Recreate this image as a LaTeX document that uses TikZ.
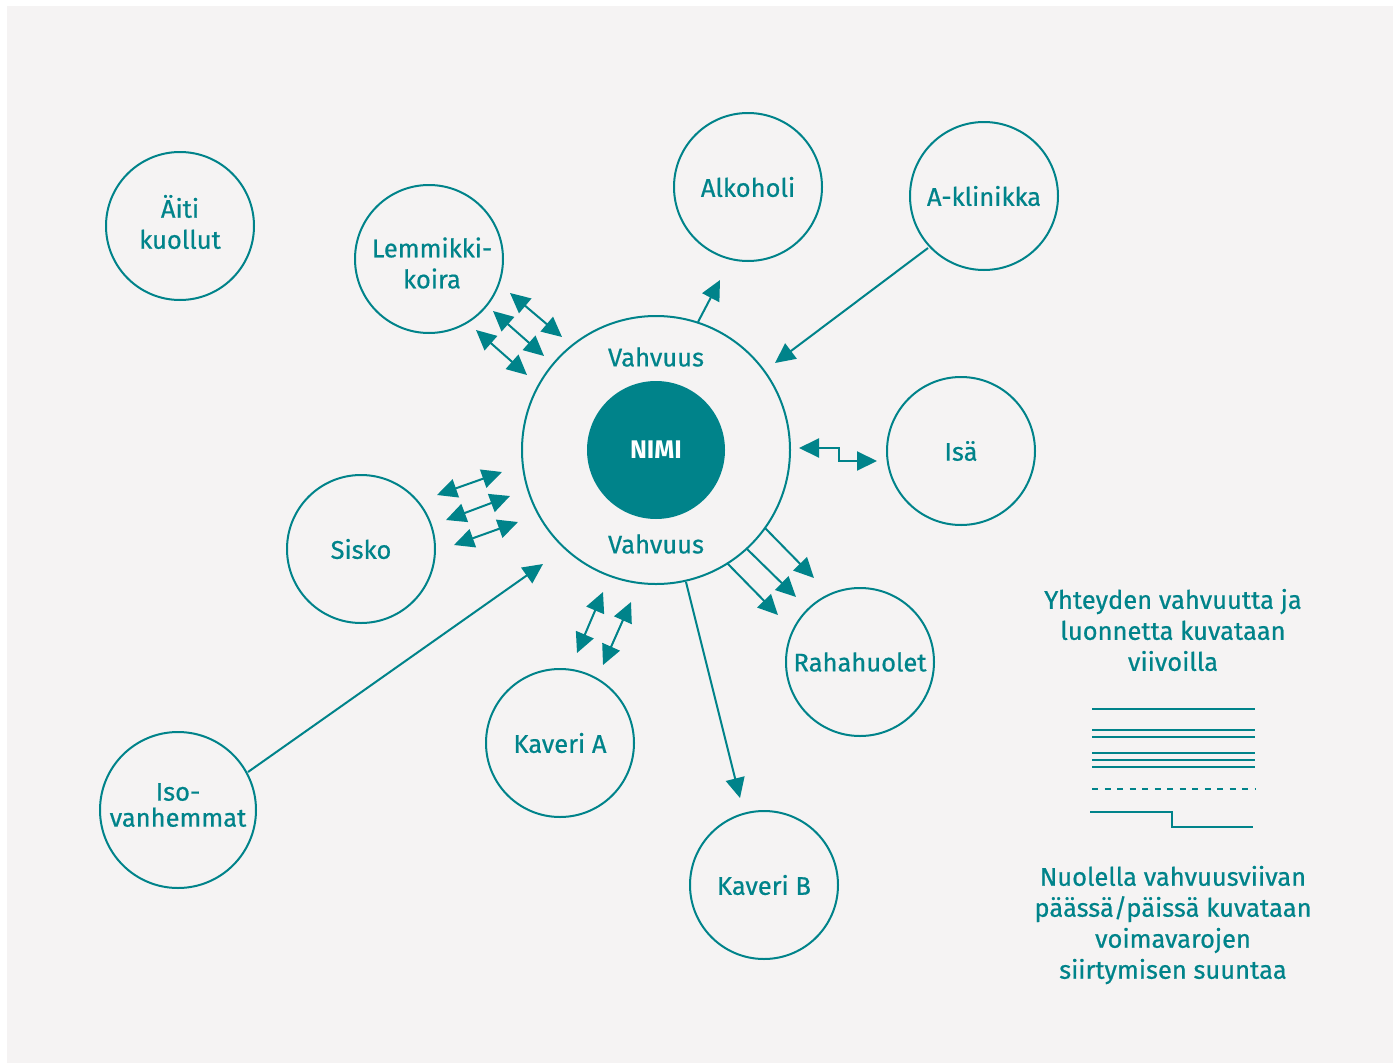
\documentclass[tikz,border=0pt]{standalone}
\usepackage{fontspec}
\setmainfont{Fira Sans}[FakeBold=0.6]
\newfontfamily\boldf{Fira Sans}
\usetikzlibrary{arrows.meta}
\definecolor{teal}{RGB}{0,131,138}
\definecolor{bg}{RGB}{245,243,243}
\tikzset{
  person/.style={circle, draw=teal, line width=2pt, minimum size=148pt, inner sep=0pt, align=center, text=teal, font=\fontsize{25.5}{31}\selectfont},
  lbl/.style={text=teal, font=\fontsize{25.5}{31}\selectfont, align=center, inner sep=0pt},
  conn/.style={draw=teal, line width=2pt, -{Triangle[length=20pt,width=19pt]}},
  dconn/.style={draw=teal, line width=2pt, {Triangle[length=20pt,width=19pt]}-{Triangle[length=20pt,width=19pt]}},
  legline/.style={draw=teal, line width=2pt}
}
\begin{document}
\begin{tikzpicture}[x=1pt,y=-1pt]
\useasboundingbox (0,0) rectangle (1393,1063);
\fill[white] (0,0) rectangle (1393,1063);
\fill[bg] (7,6) rectangle (1393,1063);

% central
\node[circle, draw=teal, line width=2pt, minimum size=268pt, inner sep=0pt] (center) at (656,450) {};
\node[circle, fill=teal, minimum size=138pt, inner sep=0pt, text=white, font=\boldf\fontsize{25.5}{31}\selectfont\bfseries] (nimi) at (656,450) {NIMI};
\node[lbl] (vtop) at (656,357) {Vahvuus};
\node[lbl] (vbot) at (656,544) {Vahvuus};

% persons
\node[person] (aiti) at (180,226) {};
\node[lbl] (aititxt) at (180,222) {Äiti\\kuollut};
\node[person] (lemmikki) at (429,259) {};
\node[lbl] (lemtxt) at (432,263) {Lemmikki-\\koira};
\node[person] (alkoholi) at (748,187) {Alkoholi};
\node[person] (aklinikka) at (984,196) {A-klinikka};
\node[person] (isa) at (961,451) {Isä};
\node[person] (sisko) at (361,549) {Sisko};
\node[person] (raha) at (860,662) {Rahahuolet};
\node[person] (kaveria) at (560,743) {Kaveri A};
\node[person, minimum size=156pt] (iso) at (178,810) {};
\node[lbl] (isotxt) at (178,805) {Iso-\\[-5pt]vanhemmat};
\node[person] (kaverib) at (764,885) {Kaveri B};

% single arrows
\coordinate (alkS) at (698,322);
\coordinate (alkE) at (720,280);
\draw[conn] (alkS) -- (alkE);
\coordinate (akS) at (928,248);
\coordinate (akE) at (775,363);
\draw[conn] (akS) -- (akE);
\coordinate (kbS) at (686,582);
\coordinate (kbE) at (740,798);
\draw[conn] (kbS) -- (kbE);
\coordinate (isoS) at (248,772);
\coordinate (isoE) at (543,564);
\draw[conn] (isoS) -- (isoE);

% Isa step arrow
\coordinate (isaL) at (799,448);
\coordinate (isaR) at (877,461);
\draw[dconn] (isaL) -- (839,448) -- (839,461) -- (isaR);

% Rahahuolet three arrows
\coordinate (r1S) at (765,528); \coordinate (r1E) at (814,578);
\coordinate (r2S) at (747,549); \coordinate (r2E) at (796,597);
\coordinate (r3S) at (727,563); \coordinate (r3E) at (778,615);
\draw[conn] (r1S) -- (r1E);
\draw[conn] (r2S) -- (r2E);
\draw[conn] (r3S) -- (r3E);

% Kaveri A double arrows
\coordinate (ka1a) at (603,592); \coordinate (ka1b) at (577,653);
\coordinate (ka2a) at (631,602); \coordinate (ka2b) at (603,665);
\draw[dconn] (ka1a) -- (ka1b);
\draw[dconn] (ka2a) -- (ka2b);

% Sisko double arrows
\coordinate (s1a) at (437,495); \coordinate (s1b) at (502,472);
\coordinate (s2a) at (446,520); \coordinate (s2b) at (510,496);
\coordinate (s3a) at (454,545); \coordinate (s3b) at (518,522);
\draw[dconn] (s1a) -- (s1b);
\draw[dconn] (s2a) -- (s2b);
\draw[dconn] (s3a) -- (s3b);

% Lemmikki double arrows
\coordinate (l1a) at (510,293); \coordinate (l1b) at (562,337);
\coordinate (l2a) at (493,311); \coordinate (l2b) at (544,356);
\coordinate (l3a) at (476,330); \coordinate (l3b) at (527,375);
\draw[dconn] (l1a) -- (l1b);
\draw[dconn] (l2a) -- (l2b);
\draw[dconn] (l3a) -- (l3b);

% legend
\node[lbl] (leg1) at (1173,630) {Yhteyden vahvuutta ja\\luonnetta kuvataan\\viivoilla};
\coordinate (a1) at (1092,709); \coordinate (b1) at (1255,709);
\draw[legline] (a1) -- (b1);
\coordinate (a2) at (1092,730); \coordinate (b2) at (1255,730);
\coordinate (a3) at (1092,737); \coordinate (b3) at (1255,737);
\draw[legline] (a2) -- (b2);
\draw[legline] (a3) -- (b3);
\coordinate (a4) at (1092,753); \coordinate (b4) at (1255,753);
\coordinate (a5) at (1092,760); \coordinate (b5) at (1255,760);
\coordinate (a6) at (1092,767); \coordinate (b6) at (1255,767);
\draw[legline] (a4) -- (b4);
\draw[legline] (a5) -- (b5);
\draw[legline] (a6) -- (b6);
\coordinate (a7) at (1092,789); \coordinate (b7) at (1256,789);
\draw[legline, dash pattern=on 6pt off 6.5pt] (a7) -- (b7);
\coordinate (a8) at (1090,812); \coordinate (b8) at (1253,827);
\draw[legline] (a8) -- (1172,812) -- (1172,827) -- (b8);
\node[lbl] (leg2) at (1173,925) {Nuolella vahvuusviivan\\päässä/päissä kuvataan\\voimavarojen\\siirtymisen suuntaa};
\end{tikzpicture}
\end{document}
